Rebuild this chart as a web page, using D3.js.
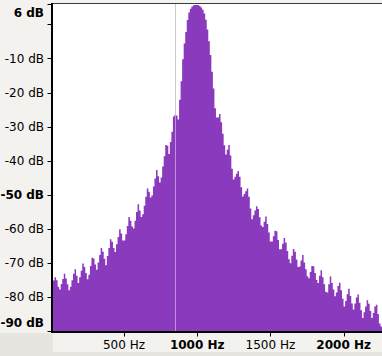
<!DOCTYPE html>
<html><head><meta charset="utf-8">
<script src="https://cdn.jsdelivr.net/npm/d3@7"></script>
<style>
body{margin:0;background:#e7e5e0}
svg{display:block}
text{font-family:"DejaVu Sans",sans-serif;font-size:12px;fill:#000}
</style></head>
<body>
<svg id="chart" width="382" height="356"></svg>
<script>
// Spectrum bins: first bin starts at freqStart (Hz), each bin freqStep wide
const freqStart = 15;
const freqStep = 10.5;
const levels = [
-75.2,-74.2,-75.1,-77.0,-77.8,-76.2,-74.7,-73.2,-74.6,-76.3,
-78.0,-77.0,-75.1,-73.2,-71.9,-73.8,-75.9,-74.2,-72.3,-70.2,
-71.2,-73.0,-74.8,-73.5,-70.9,-68.5,-68.7,-70.5,-72.0,-69.9,
-67.7,-65.6,-66.7,-68.8,-70.7,-68.0,-65.6,-63.1,-63.8,-65.6,
-66.8,-64.5,-62.4,-60.1,-61.4,-63.4,-63.4,-61.6,-59.2,-56.5,
-57.6,-59.3,-59.9,-57.6,-55.1,-52.8,-54.6,-56.5,-55.7,-53.2,
-50.6,-48.2,-49.1,-50.8,-50.2,-47.6,-45.2,-42.7,-44.6,-46.4,
-44.9,-41.7,-38.7,-35.4,-35.6,-38.0,-34.5,-31.5,-27.0,-26.6,
-26.7,-27.9,-22.1,-16.7,-10.2,-5.6,-2.2,1.3,3.5,4.6,
5.3,5.6,5.7,5.7,5.7,5.4,5.0,4.3,3.2,1.4,
-1.5,-4.9,-9.0,-13.9,-18.8,-24.6,-27.3,-27.3,-26.3,-28.7,
-32.1,-35.5,-38.2,-36.8,-35.4,-38.5,-42.4,-45.5,-44.7,-43.8,
-43.0,-44.7,-47.8,-50.5,-49.8,-49.0,-48.2,-50.6,-54.0,-57.2,
-56.0,-54.6,-53.4,-54.2,-56.6,-59.0,-59.5,-57.9,-56.4,-58.6,
-61.1,-63.7,-63.7,-62.2,-60.6,-60.7,-63.3,-66.0,-66.0,-64.4,
-62.7,-64.0,-66.5,-68.9,-70.1,-67.9,-65.9,-66.7,-69.0,-71.2,
-71.1,-69.3,-67.7,-69.9,-71.9,-73.9,-74.5,-72.7,-70.9,-71.0,
-73.0,-75.0,-75.9,-73.8,-72.2,-74.2,-76.3,-78.5,-78.7,-76.3,
-74.0,-75.9,-77.8,-79.8,-78.7,-76.8,-75.8,-78.0,-80.5,-82.8,
-81.2,-79.2,-77.6,-79.7,-81.9,-83.7,-81.9,-80.2,-79.3,-81.7,
-83.9,-86.2,-84.5,-82.8,-81.0,-82.0,-84.1,-86.2,-84.7,-82.8,
-82.3,-85.0,-87.8,-88.7
];
const yTicks = [6, 0, -10, -20, -30, -40, -50, -60, -70, -80, -90];
const yLabelled = [6, -10, -20, -30, -40, -50, -60, -70, -80, -90];
const yBold = [6, -50, -90];
const xTicks = [500, 1000, 1500, 2000];
const xBold = [1000, 2000];
const freqDomain = [15, 2262];
const dbDomain = [-90, 6];
const cursorFreq = 853;

(function(){
const W = 382, H = 356;
const pl = 53, pr = 382, pt = 4, pb = 331;
const svg = d3.select("#chart");

const x = d3.scaleLinear().domain(freqDomain).range([pl, pr]);
const y = d3.scaleLinear().domain(dbDomain).range([pb, pt]);

// backgrounds
svg.append("rect").attr("x",0).attr("y",0).attr("width",W).attr("height",H).attr("fill","#e7e5e0");
svg.append("rect").attr("x",0).attr("y",0).attr("width",W).attr("height",333).attr("fill","#f3f2ef");
svg.append("rect").attr("x",pl).attr("y",333).attr("width",pr-pl).attr("height",19).attr("fill","#f3f2ef");
svg.append("rect").attr("x",pl).attr("y",pt).attr("width",pr-pl).attr("height",pb-pt).attr("fill","#ffffff");

const cx = Math.floor(x(cursorFreq)) + 0.5;
// cursor line (gray part visible over white)
svg.append("line").attr("x1",cx).attr("x2",cx)
  .attr("y1",pt).attr("y2",pb).attr("stroke","#a0a0a0").attr("stroke-width",1);

// spectrum area
const pts = levels.map((v,i)=>({f: freqStart + i*freqStep, v}));
pts.push({f: freqStart + levels.length*freqStep, v: levels[levels.length-1]});
const area = d3.area().curve(d3.curveStepAfter)
  .x(d=>Math.min(x(d.f), pr)).y0(pb).y1(d=>y(d.v));
svg.append("path").datum(pts).attr("d",area).attr("fill","#8a3abd");

// cursor line over the fill (lighter)
svg.append("line").attr("x1",cx).attr("x2",cx)
  .attr("y1",pt).attr("y2",pb).attr("stroke","#ffffff").attr("stroke-opacity",0.45).attr("stroke-width",1);

// top border
svg.append("line").attr("x1",pl-2).attr("x2",pr).attr("y1",pt-0.5).attr("y2",pt-0.5)
  .attr("stroke","#3a3a3a").attr("stroke-width",1);

// Y axis
const yAxisG = svg.append("g");
yAxisG.append("line").attr("x1",52).attr("x2",52).attr("y1",pt-1).attr("y2",pb+2)
  .attr("stroke","#000").attr("stroke-width",2);
yTicks.forEach(v=>{
  const py = Math.round(y(v)) + 0.5;
  yAxisG.append("line").attr("x1",47.5).attr("x2",51).attr("y1",py).attr("y2",py)
    .attr("stroke","#000").attr("stroke-width",1);
});
yLabelled.forEach(v=>{
  let cy = y(v);
  cy = Math.max(cy, pt + 8.5);
  cy = Math.min(cy, pb - 8);
  yAxisG.append("text").attr("x",44).attr("y",cy).attr("dy","0.36em")
    .attr("text-anchor","end")
    .style("font-weight", yBold.includes(v) ? "bold" : "normal")
    .text(v + " dB");
});

// X axis
const xAxisG = svg.append("g");
xAxisG.append("line").attr("x1",51).attr("x2",pr).attr("y1",332).attr("y2",332)
  .attr("stroke","#000").attr("stroke-width",2);
xTicks.forEach(v=>{
  const px = Math.round(x(v)) + 0.5;
  xAxisG.append("line").attr("x1",px).attr("x2",px).attr("y1",333).attr("y2",336.5)
    .attr("stroke","#000").attr("stroke-width",1);
  xAxisG.append("text").attr("x",x(v)).attr("y",348.5).attr("text-anchor","middle")
    .style("font-weight", xBold.includes(v) ? "bold" : "normal")
    .text(v + " Hz");
});
})();
</script>
</body></html>
